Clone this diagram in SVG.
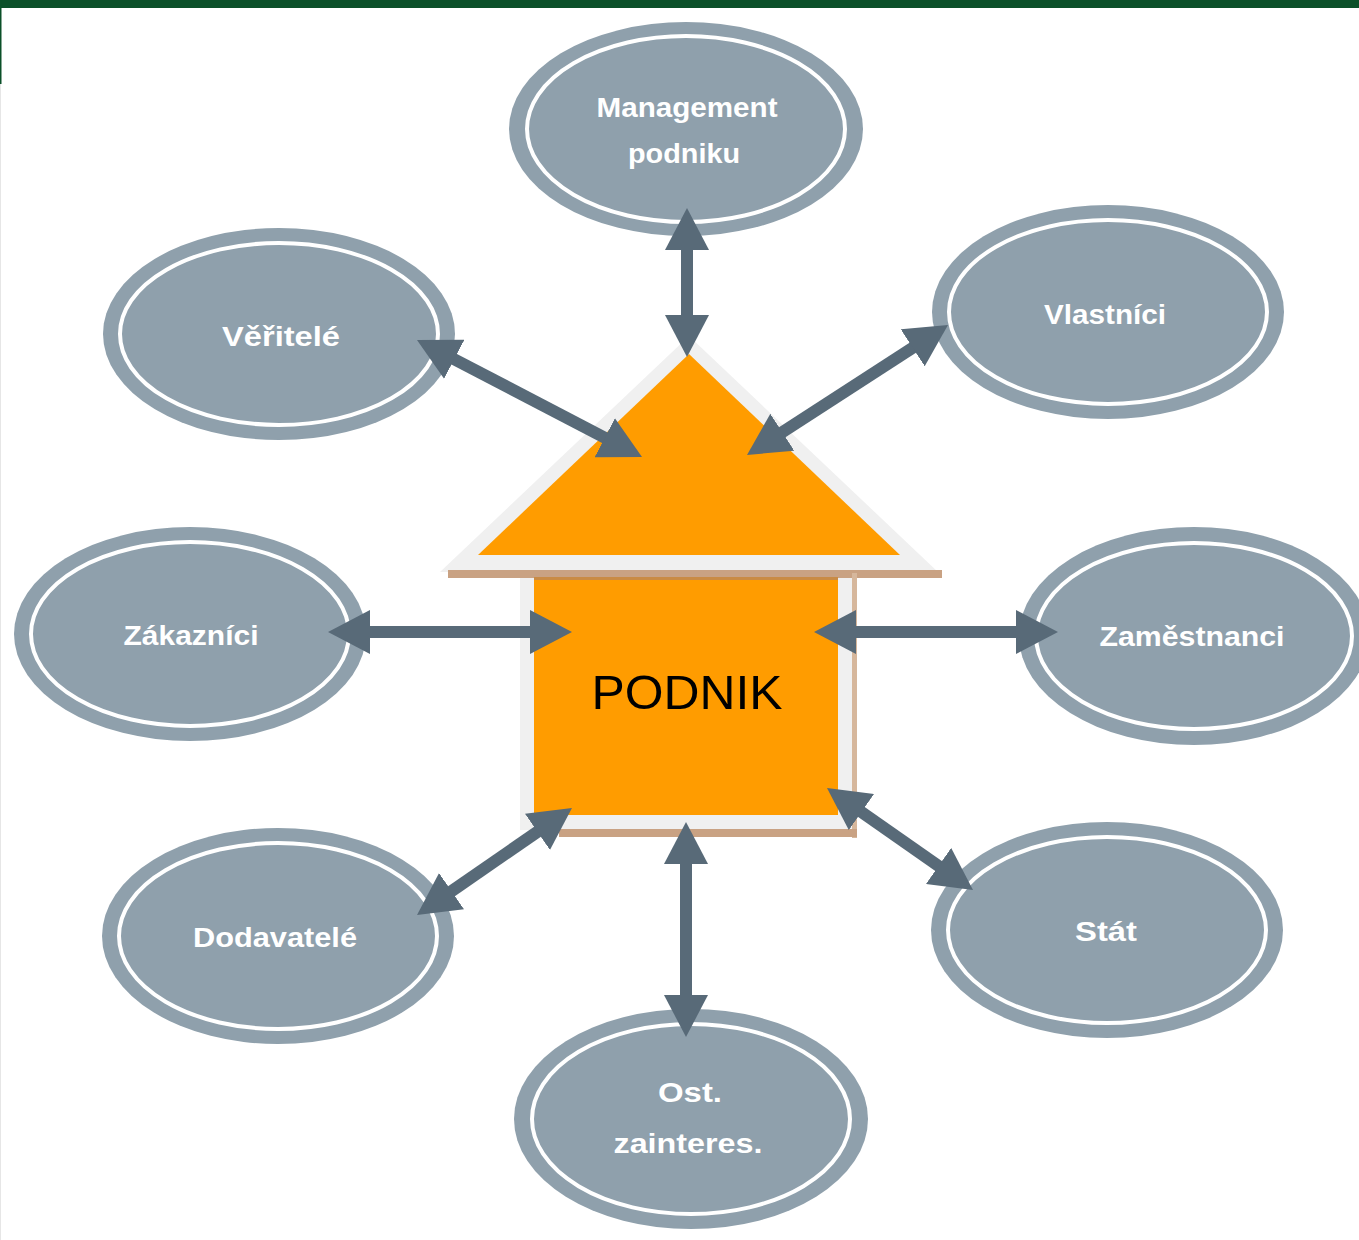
<svg xmlns="http://www.w3.org/2000/svg" width="1359" height="1240" viewBox="0 0 1359 1240">
  <style>
    .oval { fill: #8fa0ac; }
    .ring { fill: none; stroke: #ffffff; stroke-width: 4; }
    .lbl { fill: #ffffff; font-family: "Liberation Sans", Arial, sans-serif; font-size: 28px; font-weight: bold; text-anchor: middle; }
    .conn { stroke: #586a78; stroke-width: 12; fill: none; marker-start: url(#ah); marker-end: url(#ah); }
  </style>
  <defs>
    <marker id="ah" viewBox="0 0 42 44" refX="12" refY="22" markerWidth="42" markerHeight="44" markerUnits="userSpaceOnUse" orient="auto-start-reverse">
      <path d="M0,0 L42,22 L0,44 z" fill="#586a78"/>
    </marker>
  </defs>

  <rect x="0" y="0" width="1359" height="1240" fill="#ffffff"/>
  <rect x="0" y="0" width="1359" height="8" fill="#0b5029"/>
  <rect x="0" y="0" width="1.5" height="84" fill="#0b5029"/>
  <rect x="0" y="84" width="1" height="1156" fill="#e6e6e6"/>

  <g id="podnik">
    <polygon points="689,336 440,572 938,572" fill="#f0f0f0"/>
    <polygon points="689,354 478,555 900,555" fill="#ff9c00"/>
    <rect x="520" y="578" width="332" height="252" fill="#f0f0f0"/>
    <rect x="448" y="570" width="494" height="8" fill="#c9a283"/>
    <rect x="534" y="577" width="304" height="238" fill="#ff9c00"/>
    <rect x="534" y="577" width="304" height="3" fill="#c98b45"/>
    <rect x="852" y="573" width="5" height="265" fill="#d6b79c"/>
    <rect x="559" y="829" width="298" height="8" fill="#c9a283"/>
    <text x="687" y="709" font-family="'Liberation Sans', Arial, sans-serif" font-size="48" fill="#000000" text-anchor="middle" textLength="191" lengthAdjust="spacingAndGlyphs">PODNIK</text>
  </g>

  <g id="management">
    <ellipse class="oval" cx="686" cy="129" rx="177" ry="107"/>
    <ellipse class="ring" cx="686" cy="129" rx="159" ry="93"/>
    <text class="lbl" x="687" y="117" textLength="181" lengthAdjust="spacingAndGlyphs">Management</text>
    <text class="lbl" x="684" y="163" textLength="112" lengthAdjust="spacingAndGlyphs">podniku</text>
  </g>

  <g id="veritele">
    <ellipse class="oval" cx="279" cy="334" rx="176" ry="106"/>
    <ellipse class="ring" cx="279" cy="334" rx="159" ry="91"/>
    <text class="lbl" x="281" y="346" textLength="118" lengthAdjust="spacingAndGlyphs">Věřitelé</text>
  </g>

  <g id="vlastnici">
    <ellipse class="oval" cx="1108" cy="312" rx="176" ry="107"/>
    <ellipse class="ring" cx="1108" cy="312" rx="159" ry="92"/>
    <text class="lbl" x="1105" y="324" textLength="122" lengthAdjust="spacingAndGlyphs">Vlastníci</text>
  </g>

  <g id="zakaznici">
    <ellipse class="oval" cx="190" cy="634" rx="176" ry="107"/>
    <ellipse class="ring" cx="190" cy="634" rx="159" ry="92"/>
    <text class="lbl" x="191" y="645" textLength="135" lengthAdjust="spacingAndGlyphs">Zákazníci</text>
  </g>

  <g id="zamestnanci">
    <ellipse class="oval" cx="1194" cy="636" rx="175" ry="109"/>
    <ellipse class="ring" cx="1194" cy="636" rx="158" ry="93"/>
    <text class="lbl" x="1192" y="646" textLength="185" lengthAdjust="spacingAndGlyphs">Zaměstnanci</text>
  </g>

  <g id="dodavatele">
    <ellipse class="oval" cx="278" cy="936" rx="176" ry="108"/>
    <ellipse class="ring" cx="278" cy="936" rx="159" ry="93"/>
    <text class="lbl" x="275" y="947" textLength="164" lengthAdjust="spacingAndGlyphs">Dodavatelé</text>
  </g>

  <g id="stat">
    <ellipse class="oval" cx="1107" cy="930" rx="176" ry="108"/>
    <ellipse class="ring" cx="1107" cy="930" rx="159" ry="93"/>
    <text class="lbl" x="1106" y="941" textLength="62" lengthAdjust="spacingAndGlyphs">Stát</text>
  </g>

  <g id="ostatni">
    <ellipse class="oval" cx="691" cy="1119" rx="177" ry="110"/>
    <ellipse class="ring" cx="691" cy="1119" rx="159" ry="95"/>
    <text class="lbl" x="690" y="1102" textLength="64" lengthAdjust="spacingAndGlyphs">Ost.</text>
    <text class="lbl" x="688" y="1153" textLength="149" lengthAdjust="spacingAndGlyphs">zainteres.</text>
  </g>

  <g id="connectors">
    <line class="conn" x1="687" y1="238" x2="687" y2="327"/>
    <line class="conn" x1="443.6" y1="353.8" x2="615.4" y2="443.2"/>
    <line class="conn" x1="922.8" y1="341.3" x2="772.2" y2="438.7"/>
    <line class="conn" x1="358" y1="632" x2="542" y2="632"/>
    <line class="conn" x1="844" y1="632" x2="1028" y2="632"/>
    <line class="conn" x1="441.7" y1="898" x2="547.3" y2="825"/>
    <line class="conn" x1="851.6" y1="805.2" x2="948.4" y2="872.8"/>
    <line class="conn" x1="686" y1="852" x2="686" y2="1007"/>
  </g>
</svg>
